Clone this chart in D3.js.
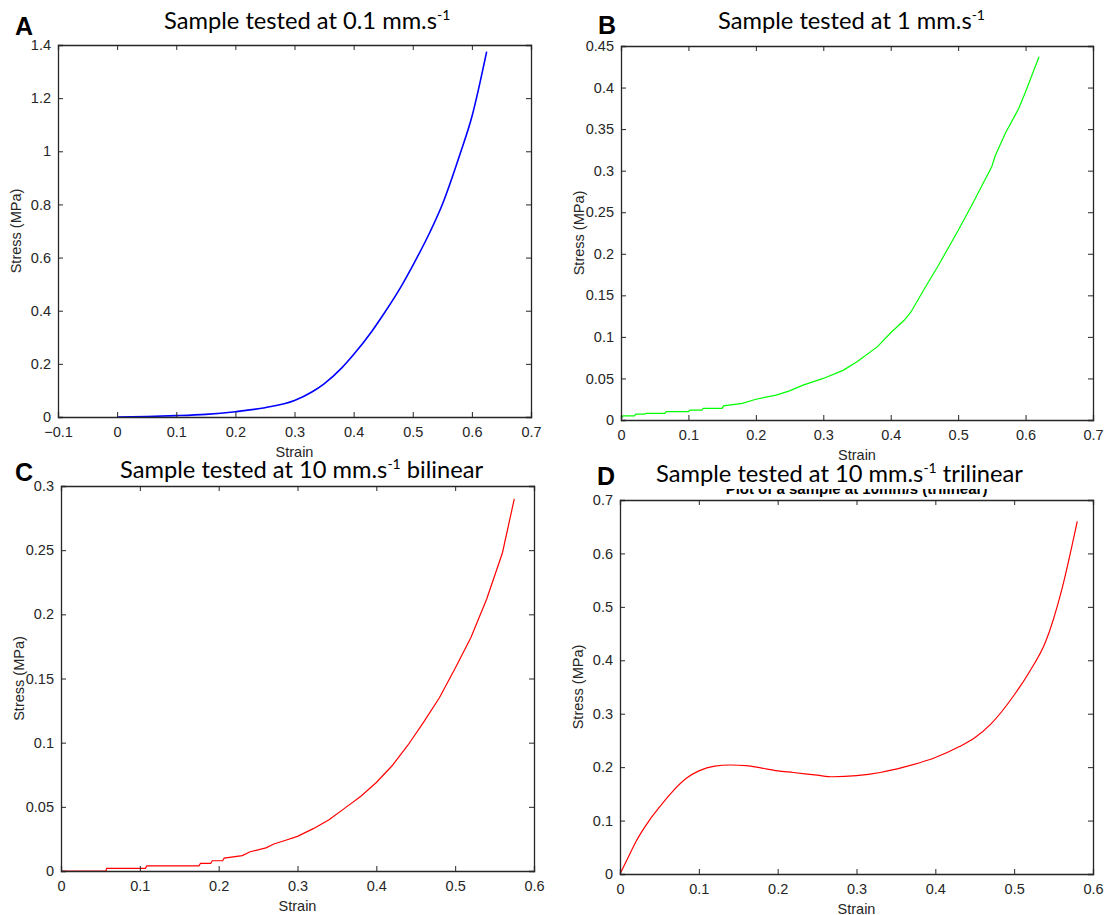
<!DOCTYPE html>
<html>
<head>
<meta charset="utf-8">
<style>
body { margin: 0; background: #fff; }
.axis text { font-family: "Liberation Sans", Arial, sans-serif; font-size: 14.5px; fill: #262626; }
.axis path, .axis line { stroke: #262626; }
</style>
</head>
<body>
<svg width="1104" height="915"></svg>
<script src="https://d3js.org/d3.v7.min.js"></script>
<script>

// panel A: 0.1 mm/s
var strainA = [0, 0.05, 0.1, 0.15, 0.2, 0.25, 0.3, 0.33, 0.35, 0.38, 0.4, 0.43, 0.45, 0.48, 0.5, 0.53, 0.55, 0.58, 0.6, 0.625];
var stressA = [0, 0.002, 0.005, 0.01, 0.02, 0.035, 0.062, 0.095, 0.125, 0.185, 0.235, 0.32, 0.385, 0.49, 0.57, 0.7, 0.8, 0.99, 1.13, 1.375];

// panel B: 1 mm/s (stepped record)
var strainB = [0, 0.003, 0.02, 0.022, 0.035, 0.037, 0.065, 0.067, 0.1, 0.102, 0.12, 0.122, 0.15, 0.152, 0.18, 0.2, 0.23, 0.25, 0.27, 0.3, 0.33, 0.35, 0.38, 0.4, 0.42, 0.43, 0.45, 0.47, 0.5, 0.52, 0.55, 0.555, 0.57, 0.59, 0.6, 0.62];
var stressB = [0.002, 0.005, 0.005, 0.007, 0.007, 0.008, 0.008, 0.01, 0.01, 0.012, 0.012, 0.014, 0.014, 0.017, 0.02, 0.025, 0.03, 0.035, 0.042, 0.05, 0.06, 0.07, 0.088, 0.105, 0.12, 0.13, 0.158, 0.185, 0.228, 0.258, 0.305, 0.318, 0.345, 0.375, 0.395, 0.437];

// panel C: 10 mm/s bilinear (stepped record)
var strainC = [0, 0.057, 0.058, 0.107, 0.109, 0.175, 0.177, 0.19, 0.192, 0.205, 0.207, 0.23, 0.24, 0.26, 0.27, 0.285, 0.3, 0.32, 0.34, 0.36, 0.38, 0.4, 0.42, 0.44, 0.46, 0.48, 0.5, 0.52, 0.54, 0.56, 0.575];
var stressC = [0, 0, 0.002, 0.002, 0.004, 0.004, 0.006, 0.006, 0.008, 0.008, 0.01, 0.012, 0.015, 0.018, 0.021, 0.024, 0.027, 0.033, 0.04, 0.049, 0.058, 0.069, 0.082, 0.098, 0.116, 0.135, 0.158, 0.182, 0.212, 0.248, 0.29];

// panel D: 10 mm/s trilinear
var strainD = [0, 0.01, 0.02, 0.037, 0.05, 0.064, 0.085, 0.1, 0.12, 0.14, 0.16, 0.18, 0.2, 0.22, 0.25, 0.27, 0.3, 0.33, 0.36, 0.4, 0.43, 0.45, 0.47, 0.5, 0.52, 0.54, 0.56, 0.58];
var stressD = [0, 0.03, 0.06, 0.1, 0.125, 0.15, 0.18, 0.193, 0.202, 0.204, 0.203, 0.198, 0.193, 0.19, 0.185, 0.182, 0.184, 0.19, 0.2, 0.218, 0.238, 0.255, 0.28, 0.335, 0.38, 0.435, 0.53, 0.66];

var xTicksA = [-0.1, 0, 0.1, 0.2, 0.3, 0.4, 0.5, 0.6, 0.7];
var yTicksA = [0, 0.2, 0.4, 0.6, 0.8, 1, 1.2, 1.4];
var xTicksB = [0, 0.1, 0.2, 0.3, 0.4, 0.5, 0.6, 0.7];
var yTicksB = [0, 0.05, 0.1, 0.15, 0.2, 0.25, 0.3, 0.35, 0.4, 0.45];
var xTicksC = [0, 0.1, 0.2, 0.3, 0.4, 0.5, 0.6];
var yTicksC = [0, 0.05, 0.1, 0.15, 0.2, 0.25, 0.3];
var xTicksD = [0, 0.1, 0.2, 0.3, 0.4, 0.5, 0.6];
var yTicksD = [0, 0.1, 0.2, 0.3, 0.4, 0.5, 0.6, 0.7];

var svg = d3.select("svg");

var panels = [
  {letter: "A", title: "Sample tested at 0.1 mm.s", tail: "", color: "#0000ff", lw: 1.6, smooth: true,
   box: [58, 45, 531, 417], xd: [-0.1, 0.7], yd: [0, 1.4], xs: strainA, ys: stressA, xt: xTicksA, yt: yTicksA,
   letterPos: [15, 35], titleX: 164, titleY: 29},
  {letter: "B", title: "Sample tested at 1 mm.s", tail: "", color: "#00ff00", lw: 1.2, smooth: false,
   box: [621, 46, 1093, 420], xd: [0, 0.7], yd: [0, 0.45], xs: strainB, ys: stressB, xt: xTicksB, yt: yTicksB,
   letterPos: [598, 34], titleX: 718, titleY: 29},
  {letter: "C", title: "Sample tested at 10 mm.s", tail: " bilinear", color: "#ff0000", lw: 1.2, smooth: false,
   box: [61, 486, 534, 871], xd: [0, 0.6], yd: [0, 0.3], xs: strainC, ys: stressC, xt: xTicksC, yt: yTicksC,
   letterPos: [15, 481], titleX: 120, titleY: 478},
  {letter: "D", title: "Sample tested at 10 mm.s", tail: " trilinear", color: "#ff0000", lw: 1.2, smooth: true,
   box: [620, 500, 1093, 874], xd: [0, 0.6], yd: [0, 0.7], xs: strainD, ys: stressD, xt: xTicksD, yt: yTicksD,
   letterPos: [597, 485], titleX: 656, titleY: 482}
];

panels.forEach(function(p) {
  var x0 = p.box[0], y0 = p.box[1], x1 = p.box[2], y1 = p.box[3];
  var x = d3.scaleLinear().domain(p.xd).range([x0, x1]);
  var y = d3.scaleLinear().domain(p.yd).range([y1, y0]);
  var g = svg.append("g");

  // old title left in panel D, mostly covered by the new one
  if (p.letter == "D") {
    g.append("text")
      .attr("x", (x0 + x1) / 2).attr("y", y0 - 6)
      .attr("text-anchor", "middle")
      .attr("font-family", "Liberation Sans, Arial, sans-serif")
      .attr("font-weight", "bold").attr("font-size", 15).attr("fill", "#000")
      .text("Plot of a sample at 10mm/s (trilinear)");
    g.append("rect").attr("x", x0).attr("y", y0 - 40).attr("width", x1 - x0).attr("height", 29).attr("fill", "#fff");
  }

  var line = d3.line()
    .x(function(d, i) { return x(p.xs[i]); })
    .y(function(d, i) { return y(p.ys[i]); })
    .curve(p.smooth ? d3.curveMonotoneX : d3.curveLinear);
  g.append("path").datum(p.xs)
    .attr("fill", "none").attr("stroke", p.color).attr("stroke-width", p.lw)
    .attr("d", line);

  var fmt = function(d) { return d3.format("")(+d.toFixed(2)); };

  g.append("g").attr("class", "axis").attr("transform", "translate(0," + y1 + ")")
    .call(d3.axisBottom(x).tickValues(p.xt).tickSize(-5).tickPadding(10).tickFormat(fmt));
  g.append("g").attr("class", "axis").attr("transform", "translate(0," + y0 + ")")
    .call(d3.axisTop(x).tickValues(p.xt).tickSize(-5).tickFormat(""));
  g.append("g").attr("class", "axis").attr("transform", "translate(" + x0 + ",0)")
    .call(d3.axisLeft(y).tickValues(p.yt).tickSize(-5).tickPadding(7).tickFormat(fmt));
  g.append("g").attr("class", "axis").attr("transform", "translate(" + x1 + ",0)")
    .call(d3.axisRight(y).tickValues(p.yt).tickSize(-5).tickFormat(""));
  g.selectAll(".axis .domain").attr("stroke-width", 1.3);

  g.append("text")
    .attr("x", (x0 + x1) / 2).attr("y", y1 + 40)
    .attr("text-anchor", "middle")
    .attr("font-family", "Liberation Sans, Arial, sans-serif").attr("font-size", 14.5).attr("fill", "#262626")
    .text("Strain");
  g.append("text")
    .attr("transform", "translate(" + (x0 - 37) + "," + ((y0 + y1) / 2) + ") rotate(-90)")
    .attr("text-anchor", "middle")
    .attr("font-family", "Liberation Sans, Arial, sans-serif").attr("font-size", 14.5).attr("fill", "#262626")
    .text("Stress (MPa)");

  var t = g.append("text")
    .attr("x", p.titleX).attr("y", p.titleY)
    .attr("font-family", "Lato, 'Open Sans', sans-serif").attr("font-size", 23.7).attr("fill", "#000");
  t.append("tspan").text(p.title);
  t.append("tspan").attr("font-size", 14).attr("dy", -9).text("-1");
  t.append("tspan").attr("dy", 9).text(p.tail);

  g.append("text")
    .attr("x", p.letterPos[0]).attr("y", p.letterPos[1])
    .attr("font-family", "Liberation Sans, Arial, sans-serif").attr("font-weight", "bold")
    .attr("font-size", 25).attr("fill", "#000")
    .text(p.letter);
});

</script>
</body>
</html>
